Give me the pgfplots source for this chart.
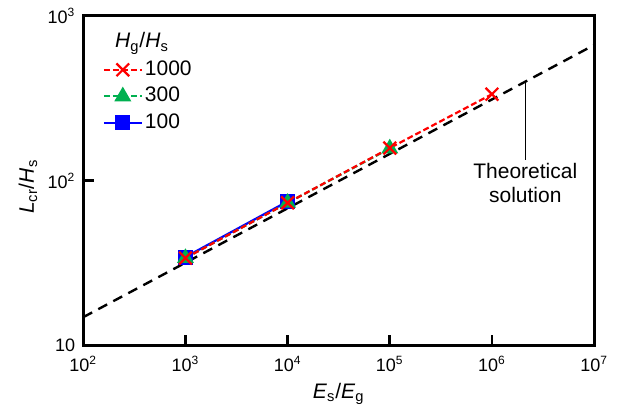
\documentclass[border=0pt]{standalone}
\usepackage{fontspec}
\setmainfont{Liberation Sans}
\usepackage{pgfplots}
\pgfplotsset{compat=1.18}
\definecolor{tgreen}{RGB}{0,176,80}
\begin{document}
\begin{tikzpicture}
\begin{loglogaxis}[
  name=ax,
  scale only axis,
  width=255.4pt, height=164.9pt,
  xmin=1e2, xmax=1e7, ymin=10, ymax=1000,
  xtick={1e2,1e3,1e4,1e5,1e6,1e7},
  xticklabels={10\textsuperscript{2},10\textsuperscript{3},10\textsuperscript{4},10\textsuperscript{5},10\textsuperscript{6},10\textsuperscript{7}},
  ytick={10,100,1000},
  yticklabels={10,10\textsuperscript{2},10\textsuperscript{3}},
  xminorticks=false, yminorticks=false,
  xtick pos=left, ytick pos=left,
  tick align=inside,
  major tick length=5.5pt,
  line width=1.4pt,
  tick style={line width=1.4pt, black},
  font=\fontsize{10.5}{12.6}\selectfont,
  tick label style={font=\fontsize{9}{10.8}\selectfont},
  xticklabel style={yshift=-1pt},
  xlabel={\textit{E}\textsubscript{s}/\textit{E}\textsubscript{g}},
  ylabel={\textit{L}\textsubscript{cr}/\textit{H}\textsubscript{s}},
  every axis x label/.style={at={(axis description cs:0.5,0)}, anchor=base, yshift=-26.2pt},
  every axis y label/.style={at={(axis description cs:0,0.5)}, xshift=-27.7pt, yshift=-3pt, anchor=center, rotate=90},
  reverse legend,
  legend cell align=left,
  legend style={draw=none, fill=none, inner sep=0pt,
    at={(axis description cs:0,1)}, anchor=north west, xshift=9pt, yshift=-20pt,
    row sep=0.8pt,
    nodes={inner sep=1pt, text height=8pt, text depth=2.5pt}},
  legend image code/.code={%
    \draw[mark repeat=2,mark phase=2] plot coordinates {(0pt,0pt) (9.5pt,0pt) (19pt,0pt)};},
]
% theoretical solution
\addplot[black, line width=1.2pt, dash pattern=on 5pt off 3.5pt, forget plot] coordinates {(1e2,14.9) (1e7,666)};
% Hg/Hs = 100
\addplot[blue, line width=1.1pt, mark=square*, mark size=3.2pt, mark options={solid, fill=blue}] coordinates {(1e3,34.5) (1e4,75)};
\addlegendentry{100}
% Hg/Hs = 300
\addplot[tgreen, line width=1.1pt, dash pattern=on 3pt off 1.5pt, mark=triangle*, mark size=3.8pt, mark options={solid, fill=tgreen}] coordinates {(1e3,34) (1e4,73.5) (1e5,157)};
\addlegendentry{300}
% Hg/Hs = 1000
\addplot[red, line width=1.1pt, dash pattern=on 3pt off 1.5pt, mark=x, mark size=4.5pt, mark options={solid, line width=1.1pt}] coordinates {(1e3,34) (1e4,73.5) (1e5,158) (1e6,335)};
\addlegendentry{1000}
\draw[line width=0.6pt] (axis cs:2.12e6,398) -- (axis cs:2.12e6,133.6);
\node[anchor=north, align=center, inner sep=1pt, font=\fontsize{10.5}{12}\selectfont] at (axis cs:2.12e6,133.6) {Theoretical\\solution};
\end{loglogaxis}
\node[anchor=base, font=\fontsize{10.5}{12.6}\selectfont] at ([xshift=29.35pt, yshift=-16pt]ax.north west) {\textit{H}\textsubscript{g}/\textit{H}\textsubscript{s}};
\pgfresetboundingbox
\path ([xshift=-41.65pt, yshift=-30.65pt]ax.south west) rectangle ++(311pt,203.5pt);
\end{tikzpicture}
\end{document}
